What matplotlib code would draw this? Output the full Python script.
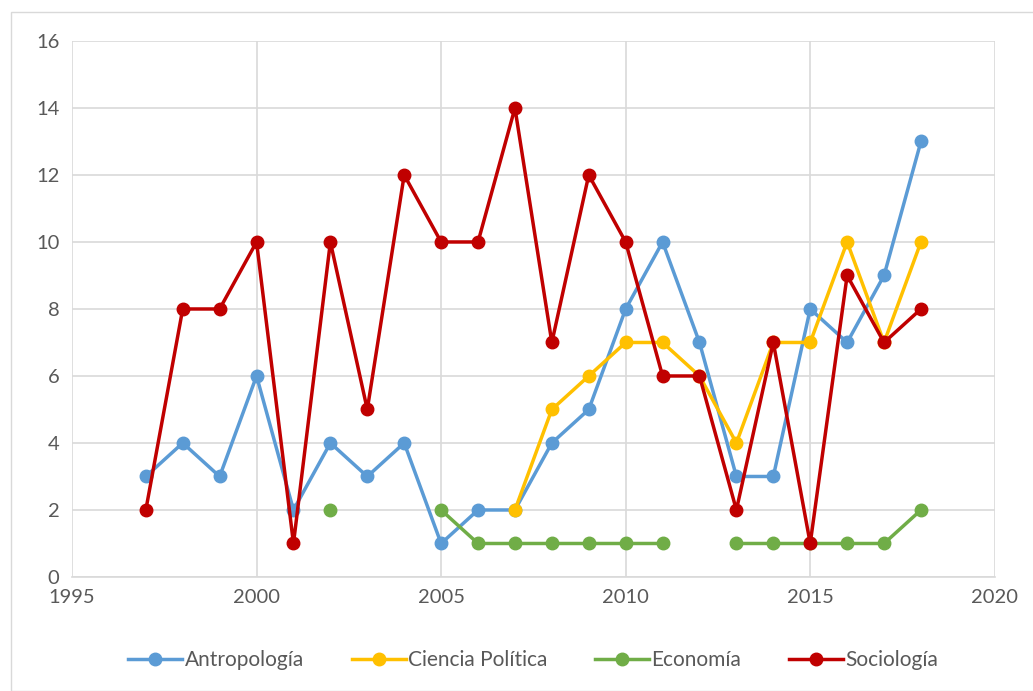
import matplotlib.pyplot as plt
import numpy as np

plt.rcParams['font.family'] = ['Lato', 'DejaVu Sans']

# Datos
anios = list(range(1997, 2019))
antropologia = [3, 4, 3, 6, 2, 4, 3, 4, 1, 2, 2, 4, 5, 8, 10, 7, 3, 3, 8, 7, 9, 13]
ciencia_politica = [np.nan] * 10 + [2, 5, 6, 7, 7, 6, 4, 7, 7, 10, 7, 10]
economia = [np.nan, np.nan, np.nan, np.nan, np.nan, 2, np.nan, np.nan, 2, 1, 1, 1, 1, 1, 1,
            np.nan, 1, 1, 1, 1, 1, 2]
sociologia = [2, 8, 8, 10, 1, 10, 5, 12, 10, 10, 14, 7, 12, 10, 6, 6, 2, 7, 1, 9, 7, 8]

series = [
    ("Antropología", antropologia, "#5B9BD5"),
    ("Ciencia Política", ciencia_politica, "#FFC000"),
    ("Economía", economia, "#70AD47"),
    ("Sociología", sociologia, "#C00000"),
]

fig = plt.figure(figsize=(10.33, 6.91), dpi=100)
ax = fig.add_axes([0.0697, 0.165, 0.8933, 0.7757])

for nombre, valores, color in series:
    ax.plot(anios, valores, color=color, lw=2.5, marker='o', ms=9, label=nombre)

ax.set_xlim(1995, 2020)
ax.set_ylim(0, 16)
ax.set_xticks(range(1995, 2021, 5))
ax.set_yticks(range(0, 17, 2))
ax.grid(True, color='#D9D9D9', lw=1.2)
ax.set_axisbelow(True)
for lado in ['top', 'right', 'left']:
    ax.spines[lado].set_visible(False)
ax.spines['bottom'].set_color('#D9D9D9')
ax.spines['bottom'].set_linewidth(1.2)
ax.tick_params(length=0, labelsize=14.5, colors='#595959', pad=9)

ax.legend(loc='center', bbox_to_anchor=(0.5, -0.155), ncol=4, frameon=False,
          fontsize=15, labelcolor='#595959', handlelength=2.6, handletextpad=0.1,
          columnspacing=2.3)

# marco exterior
fig.patches.append(plt.Rectangle((0.011, 0.0), 0.99, 0.983, transform=fig.transFigure,
                                 fill=False, edgecolor='#D9D9D9', lw=1.0))

fig.savefig('out.png', dpi=100)
